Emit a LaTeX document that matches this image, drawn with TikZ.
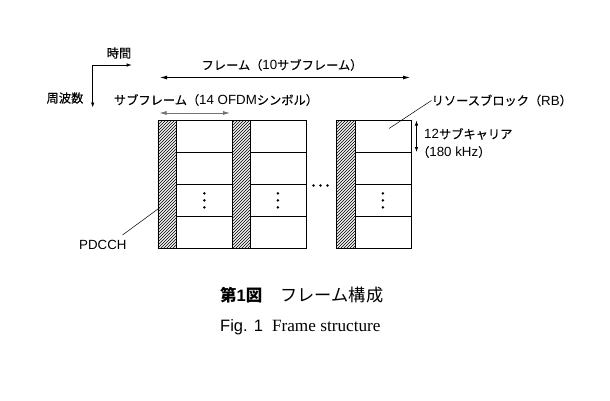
\documentclass[tikz,border=0pt]{standalone}
\usepackage{fontspec}
\setmainfont{Liberation Sans}
\newfontfamily\jp[Scale=0.92,FakeBold=0.2]{Noto Sans CJK JP}
\newfontfamily\jpc{Noto Sans CJK JP}
\newfontfamily\tms{Liberation Serif}
\usetikzlibrary{patterns,arrows.meta}
\begin{document}
\begin{tikzpicture}[x=1pt,y=-1pt,
  lbl/.style={inner sep=0pt,font=\fontsize{13.3}{15}\selectfont},
  captext/.style={inner sep=0pt,font=\fontsize{16.5}{18}\selectfont},
  hatch/.style={draw=black,line width=0.8pt,preaction={fill=gray!12},pattern=north east lines,pattern color=black,minimum width=18.5pt,minimum height=128pt,inner sep=0pt,anchor=north west},
  cell/.style={draw=black,line width=0.8pt,fill=white,minimum width=56pt,minimum height=32pt,inner sep=0pt,anchor=north west},
  dimarrow/.style={line width=0.8pt,{Latex[length=7pt,width=4pt]}-{Latex[length=7pt,width=4pt]}},
  axarrow/.style={line width=0.7pt,-{Latex[length=5pt,width=3.5pt]}},
  leader/.style={line width=0.5pt},
  dot/.style={circle,fill=black,inner sep=0pt,minimum size=2.8pt}]
\useasboundingbox (0,0) rectangle (610,400);
\fill[white] (0,0) rectangle (610,400);

% columns
\node[hatch] (h1) at (157.5,120) {};
\node[hatch] (h2) at (231,120) {};
\node[hatch] (h3) at (336,120) {};
\foreach \c/\x in {1/176,2/249.5,3/354.5}{
  \foreach \r in {1,2,3,4}{
    \node[cell] (c\c\r) at (\x,{120+(\r-1)*32}) {};
  }
}
% vertical dots in cells
\foreach \c in {1,2,3}{
  \node[dot] at ([yshift=-7pt]c\c3.center) {};
  \node[dot] at (c\c3.center) {};
  \node[dot] at ([yshift=7pt]c\c3.center) {};
}
% horizontal dots
\node[dot] (d1) at (313.5,185.5) {};
\node[dot] (d2) at (320.5,185.5) {};
\node[dot] (d3) at (327.5,185.5) {};

% axes
\coordinate (ax) at (92.7,65);
\coordinate (axt) at (131.7,65);
\coordinate (axf) at (92.7,107.5);
\draw[axarrow] (ax) -- (axt);
\draw[axarrow] (ax) -- (axf);
\node[lbl] (time) at (119,53) {\jp 時間};
\node[lbl] (freq) at (65,98) {\jp 周波数};

% frame arrow
\coordinate (fl) at (160,77.5);
\coordinate (fr) at (410,77.5);
\draw[dimarrow] (fl) -- (fr);
\node[lbl] (frame) at (282,65) {{\jp フレーム（}10{\jp サブフレーム）}};

% subframe arrow
\coordinate (sl) at (159.5,113);
\coordinate (sr) at (230,113);
\draw[dimarrow,draw=black!55,fill=black!55] (sl) -- (sr);
\node[lbl] (sub) at (216,100) {{\jp サブフレーム（}14 OFDM{\jp シンボル）}};

% resource block
\node[lbl,anchor=west] (rb) at (431.5,100.5) {{\jp リソースブロック（}RB{\jp ）}};
\coordinate (rbend) at (389,128.5);
\draw[leader] (rb.west) -- (rbend);

% subcarrier
\coordinate (st) at (416.5,120.5);
\coordinate (sb) at (416.5,152);
\draw[line width=0.8pt,{Latex[length=5pt,width=3.5pt]}-{Latex[length=5pt,width=3.5pt]}] (st) -- (sb);
\node[lbl,anchor=west] (sc1) at (424,134) {12{\jp サブキャリア}};
\node[lbl,anchor=west] (sc2) at (417,152) {{\jp （}180 kHz{\jp ）}};

% PDCCH
\node[lbl,anchor=west] (pd) at (79,245) {PDCCH};
\coordinate (pdend) at (160,207.5);
\coordinate (pdstart) at (122.5,235);
\draw[leader] (pdstart) -- (pdend);

% caption
\node[captext,anchor=west] (cap1) at (220,295) {{\jpc\bfseries 第}\textbf{1}{\jpc\bfseries 図}\hspace{1.1em}{\jpc\fontsize{17.2}{18}\selectfont フレーム構成}};
\node[captext,anchor=west] (cap2) at (220,327) {Fig. 1\hspace{0.55em}{\tms\fontsize{17.2}{18}\selectfont Frame structure}};
\end{tikzpicture}
\end{document}
